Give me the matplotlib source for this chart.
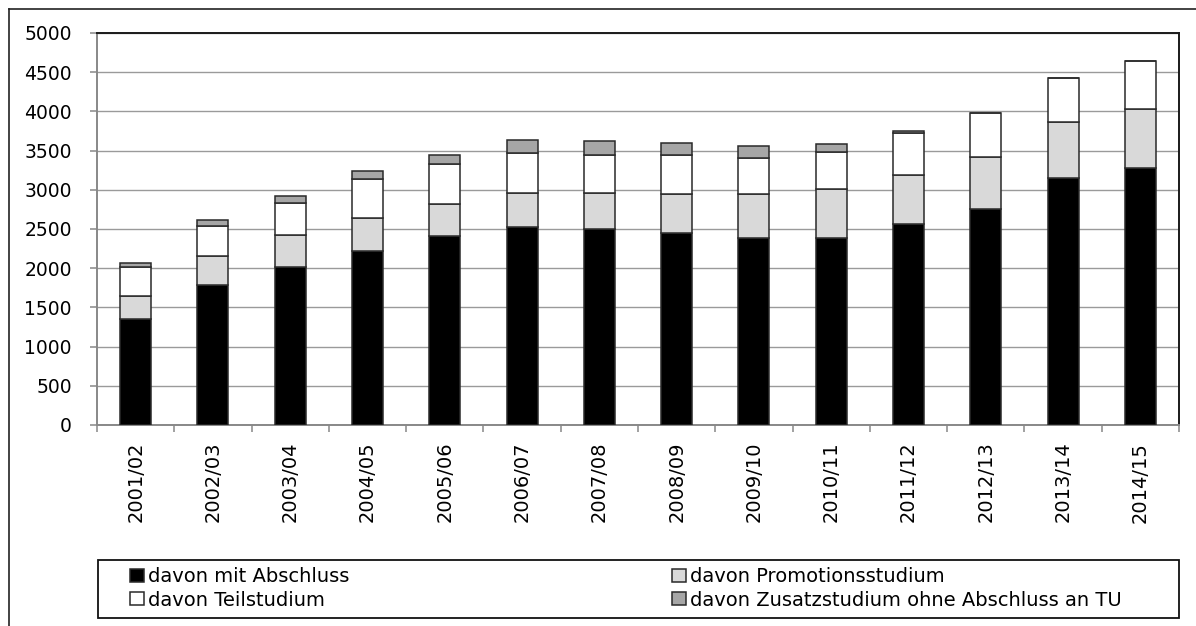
import matplotlib.pyplot as plt
import numpy as np
from matplotlib.lines import Line2D
from matplotlib.patches import Rectangle

plt.rcParams['font.family'] = ['DejaVu Sans']

# Wintersemester
semester = ["2001/02", "2002/03", "2003/04", "2004/05", "2005/06", "2006/07", "2007/08",
            "2008/09", "2009/10", "2010/11", "2011/12", "2012/13", "2013/14", "2014/15"]

# Werte
mit_abschluss = [1350, 1790, 2020, 2215, 2405, 2520, 2495, 2445, 2380, 2380, 2565, 2760, 3145, 3275]
promotion = [300, 360, 400, 420, 420, 440, 465, 505, 570, 625, 630, 660, 720, 755]
teilstudium = [360, 390, 410, 500, 500, 515, 485, 500, 460, 480, 535, 560, 560, 610]
zusatzstudium = [60, 70, 90, 105, 115, 155, 175, 150, 150, 95, 20, 0, 0, 0]

W, H = 1196, 626
fig = plt.figure(figsize=(W / 100, H / 100), dpi=100)
ax = fig.add_axes([97 / W, 1 - 425 / H, 1082 / W, 392 / H])

x = np.arange(len(semester))
bw = 0.40
edge = "#2a2a2a"
unten = np.zeros(len(x))
serien = [
    (mit_abschluss, "#000000", "davon mit Abschluss"),
    (promotion, "#D9D9D9", "davon Promotionsstudium"),
    (teilstudium, "#FFFFFF", "davon Teilstudium"),
    (zusatzstudium, "#A6A6A6", "davon Zusatzstudium ohne Abschluss an TU"),
]
bars = []
for werte, farbe, name in serien:
    b = ax.bar(x, werte, bw, bottom=unten, color=farbe, edgecolor=edge, linewidth=1.1,
               label=name, zorder=3)
    bars.append(b)
    unten = unten + np.array(werte)

ax.set_xlim(-0.5, len(x) - 0.5)
ax.set_ylim(0, 5000)
ax.set_yticks(range(0, 5001, 500))
ax.yaxis.grid(True, color="#9a9a9a", linewidth=1.0, zorder=0)
ax.set_axisbelow(True)

ax.set_xticks(x)
ax.set_xticklabels(semester, rotation=90, fontsize=14)
ax.tick_params(axis="x", length=0, pad=12)
ax.set_xticks(np.arange(-0.5, len(x), 1), minor=True)
ax.tick_params(axis="x", which="minor", length=5, color="#888888", width=1.1)
ax.tick_params(axis="y", labelsize=13.5, length=5, color="#888888", width=1.1, pad=13)

for s in ["left", "bottom"]:
    ax.spines[s].set_color("#888888")
    ax.spines[s].set_linewidth(1.4)
for s in ["top", "right"]:
    ax.spines[s].set_color("#1a1a1a")
    ax.spines[s].set_linewidth(1.4)

# Legende in zwei Spalten mit eigenem Rahmen
leg_box = Rectangle((98 / W, 1 - 618 / H), 1081 / W, 58 / H, transform=fig.transFigure,
                    fill=False, edgecolor="#111111", linewidth=1.3)
fig.patches.append(leg_box)

leg_kw = dict(loc="center left", fontsize=14, frameon=False, borderpad=0, borderaxespad=0,
              handlelength=0.72, handleheight=0.62, handletextpad=0.2, labelspacing=0.22)
leg1 = fig.legend([bars[0], bars[2]], [bars[0].get_label(), bars[2].get_label()],
                  bbox_to_anchor=(130 / W, 1 - 588.5 / H), **leg_kw)
leg2 = fig.legend([bars[1], bars[3]], [bars[1].get_label(), bars[3].get_label()],
                  bbox_to_anchor=(672 / W, 1 - 588.5 / H), **leg_kw)

# Rahmen des Diagrammbereichs (nur links und oben sichtbar)
fig.add_artist(Line2D([9 / W, 9 / W], [0, 1 - 9 / H], transform=fig.transFigure,
                      color="#222222", linewidth=1.2))
fig.add_artist(Line2D([9 / W, 1], [1 - 9 / H, 1 - 9 / H], transform=fig.transFigure,
                      color="#222222", linewidth=1.2))

fig.savefig("out.png", dpi=100)
